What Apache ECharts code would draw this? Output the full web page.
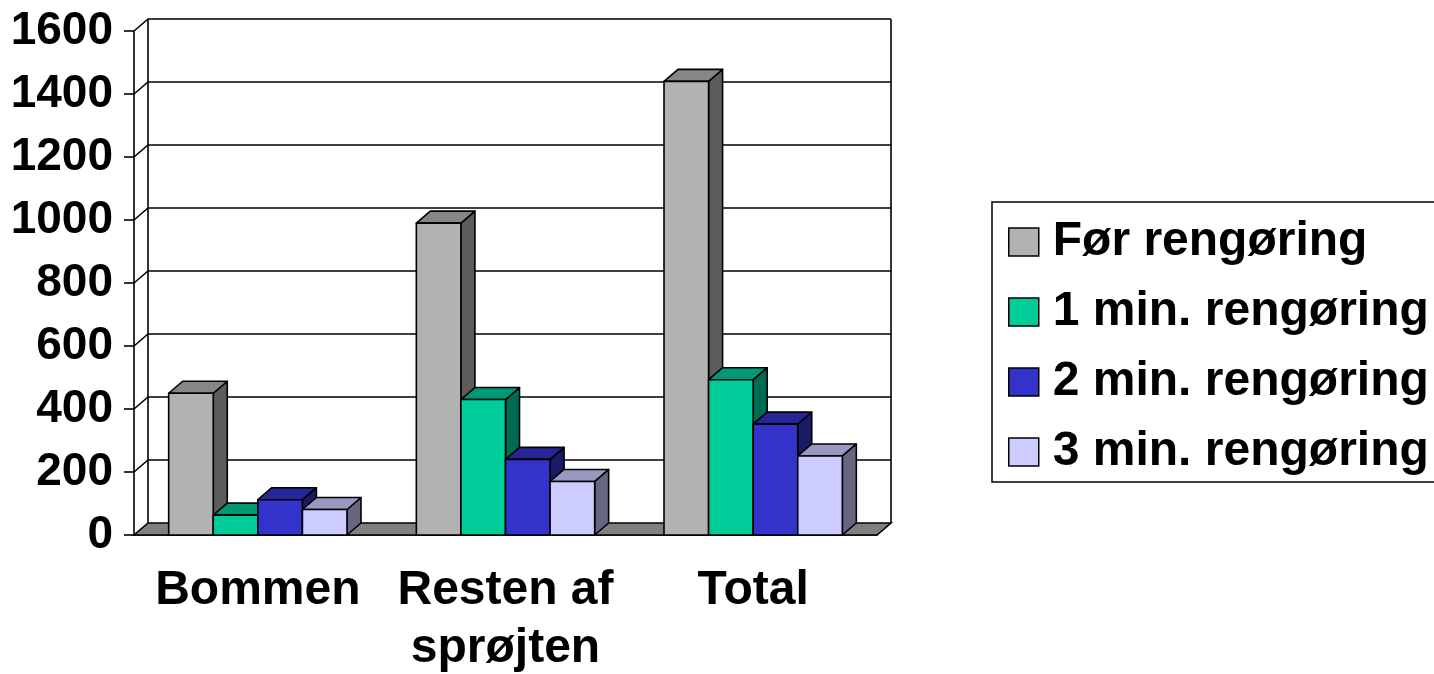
<!DOCTYPE html>
<html>
<head>
<meta charset="utf-8">
<script src="https://cdn.jsdelivr.net/npm/echarts@6/dist/echarts.min.js"></script>
<style>
  html, body { margin: 0; padding: 0; background: #fff; }
  #chart { width: 1434px; height: 674px; }
</style>
</head>
<body>
<div id="chart"></div>
<script>
// Categories along the x axis
const categories = ['Bommen', 'Resten af\nsprøjten', 'Total'];

// Series names
const seriesNames = ['Før rengøring', '1 min. rengøring', '2 min. rengøring', '3 min. rengøring'];

// Values per series (one per category)
const forRengoring = [450, 990, 1440];
const min1Rengoring = [63, 430, 493];
const min2Rengoring = [112, 240, 352];
const min3Rengoring = [81, 170, 251];

// Value axis ticks
const yMin = 0;
const yMax = 1600;
const yStep = 200;

const seriesValues = [forRengoring, min1Rengoring, min2Rengoring, min3Rengoring];

// Face colours for each series: front, top, side
const faceColors = [
  ['#B2B2B2', '#868686', '#5C5C5C'],
  ['#00CC99', '#009973', '#006B50'],
  ['#3333CC', '#262699', '#1A1A66'],
  ['#CCCCFF', '#9999C0', '#666680']
];

// 3D depth offset of walls and bars
const DX = 14;
const DY = 12;
const BAR_FRAC = 0.18;
const LINE = 1.6;
const FONT = 'Liberation Sans, Arial, sans-serif';
const FONT_SIZE = 48;

function wallRender(params, api) {
  const cs = params.coordSys;
  const left = cs.x, right = cs.x + cs.width;
  const y0 = api.coord([0, yMin])[1];
  const children = [];
  // floor
  children.push({
    type: 'polygon',
    shape: { points: [[left, y0], [right, y0], [right + DX, y0 - DY], [left + DX, y0 - DY]] },
    style: { fill: '#808080', stroke: '#000', lineWidth: LINE }
  });
  const yTop = api.coord([0, yMax])[1];
  // back wall edges
  children.push({ type: 'line', shape: { x1: left + DX, y1: yTop - DY, x2: left + DX, y2: y0 - DY }, style: { stroke: '#000', lineWidth: LINE } });
  children.push({ type: 'line', shape: { x1: right + DX, y1: yTop - DY, x2: right + DX, y2: y0 - DY }, style: { stroke: '#000', lineWidth: LINE } });
  // gridlines on the side wall and back wall
  for (let t = yMin + yStep; t <= yMax; t += yStep) {
    const y = api.coord([0, t])[1];
    children.push({ type: 'polyline', shape: { points: [[left, y], [left + DX, y - DY], [right + DX, y - DY]] }, style: { stroke: '#000', lineWidth: LINE, fill: null } });
  }
  return { type: 'group', children: children };
}

function makeBarRender(idx) {
  return function (params, api) {
    const cat = api.value(0);
    const v = api.value(1);
    const base = api.coord([cat, 0]);
    const top = api.coord([cat, v]);
    const band = api.size([1, 0])[0];
    const w = band * BAR_FRAC;
    const x0 = base[0] - 2 * w + idx * w;
    const x1 = x0 + w;
    const yb = base[1], yt = top[1];
    const c = faceColors[idx];
    const st = (fill) => ({ fill: fill, stroke: '#000', lineWidth: LINE, lineJoin: 'round' });
    return {
      type: 'group',
      children: [
        { type: 'polygon', shape: { points: [[x1, yb], [x1 + DX, yb - DY], [x1 + DX, yt - DY], [x1, yt]] }, style: st(c[2]) },
        { type: 'polygon', shape: { points: [[x0, yt], [x1, yt], [x1 + DX, yt - DY], [x0 + DX, yt - DY]] }, style: st(c[1]) },
        { type: 'rect', shape: { x: x0, y: yt, width: w, height: yb - yt }, style: st(c[0]) }
      ]
    };
  };
}

const series = [{
  name: 'wall',
  type: 'custom',
  renderItem: wallRender,
  data: [[0, 0]],
  clip: false,
  silent: true,
  z: 1
}];

seriesValues.forEach(function (vals, i) {
  series.push({
    name: seriesNames[i],
    type: 'custom',
    renderItem: makeBarRender(i),
    data: vals.map(function (v, k) { return [k, v]; }),
    encode: { x: 0, y: 1 },
    clip: false,
    z: 3,
    itemStyle: { color: faceColors[i][0], borderColor: '#000', borderWidth: 1.5 }
  });
});

const chart = echarts.init(document.getElementById('chart'), null, { renderer: 'canvas' });
chart.setOption({
  animation: false,
  backgroundColor: '#fff',
  grid: { left: 134, right: 557, top: 31, bottom: 139, containLabel: false, outerBoundsMode: 'none' },
  xAxis: {
    type: 'category',
    data: categories,
    axisLine: { lineStyle: { color: '#000', width: LINE } },
    axisTick: { length: 10, lineStyle: { color: '#000', width: LINE } },
    axisLabel: { color: '#000', fontSize: FONT_SIZE, fontWeight: 'bold', fontFamily: FONT, margin: 27, lineHeight: 58, interval: 0 },
    splitLine: { show: false }
  },
  yAxis: {
    type: 'value',
    min: yMin, max: yMax, interval: yStep,
    axisLine: { show: true, lineStyle: { color: '#000', width: LINE } },
    axisTick: { show: true, length: 10, lineStyle: { color: '#000', width: LINE } },
    axisLabel: { color: '#000', fontSize: 46, fontWeight: 'bold', fontFamily: FONT, margin: 21, formatter: function (v) { return String(v); } },
    splitLine: { show: false }
  },
  // legend frame, open on the right where it runs off the canvas
  graphic: [{
    type: 'polyline',
    shape: { points: [[1470, 202], [992, 202], [992, 482], [1470, 482]] },
    style: { fill: null, stroke: '#000', lineWidth: 1.5 },
    silent: true,
    z: 0
  }],
  legend: {
    data: seriesNames,
    orient: 'vertical',
    left: 992,
    top: 202,
    icon: 'rect',
    itemWidth: 30,
    itemHeight: 28,
    itemGap: 20,
    selectedMode: false,
    borderWidth: 0,
    padding: [15, 10, 6, 16],
    itemStyle: { borderColor: '#000', borderWidth: 1.5 },
    textStyle: { color: '#000', fontSize: FONT_SIZE, fontWeight: 'bold', fontFamily: FONT, lineHeight: 50, padding: [0, 0, 0, 9] }
  },
  series: series
});
</script>
</body>
</html>
